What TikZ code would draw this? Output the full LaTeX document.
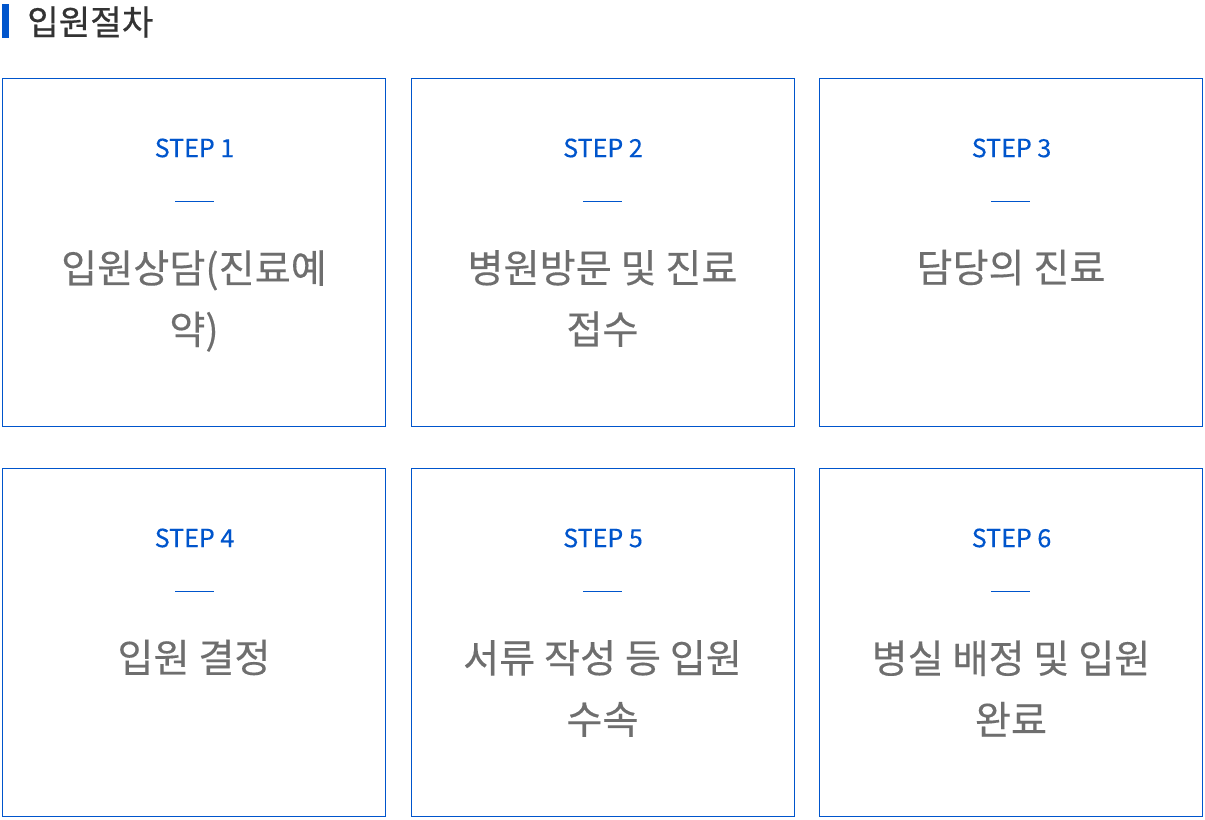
\documentclass[tikz,border=0pt]{standalone}
\usepackage{fontspec}
\setmainfont{Noto Sans CJK KR}
\newfontfamily\medfont[FakeBold=0.6]{Noto Sans CJK KR}
\newfontfamily\semifont[FakeBold=0.3]{Noto Sans CJK KR}
\definecolor{stepblue}{HTML}{0055CC}
\definecolor{bodygray}{HTML}{6E6E6E}
\definecolor{titlegray}{HTML}{333333}
\begin{document}
\begin{tikzpicture}[x=0.75pt,y=-0.75pt,
  card/.style={draw=stepblue, line width=0.75pt, minimum width=287.25pt, minimum height=261pt, inner sep=0pt, outer sep=0pt},
  steplabel/.style={text=stepblue, font=\semifont\fontsize{18.8}{22}\selectfont, inner sep=0pt},
  rule/.style={draw=stepblue, line width=0.75pt},
  bodytext/.style={text=bodygray, font=\semifont\fontsize{29.4}{46}\selectfont, align=center, inner sep=0pt},
  titletext/.style={text=titlegray, font=\medfont\fontsize{25.7}{28}\selectfont, inner sep=0pt, anchor=west}]
\useasboundingbox (0,0) rectangle (1205,819);
% title
\fill[stepblue] (2,4) rectangle (8.5,38);
\node[titletext] (title) at (27,22) {입원절차};
% cards
\node[card] (c1) at (194,252.5) {};
\node[card] (c2) at (602.5,252.5) {};
\node[card] (c3) at (1011,252.5) {};
\node[card] (c4) at (194,642.5) {};
\node[card] (c5) at (602.5,642.5) {};
\node[card] (c6) at (1011,642.5) {};
% step labels
\node[steplabel] (s1) at (194.5,148) {STEP 1};
\node[steplabel] (s2) at (603,148) {STEP 2};
\node[steplabel] (s3) at (1011.5,148) {STEP 3};
\node[steplabel] (s4) at (194.5,538) {STEP 4};
\node[steplabel] (s5) at (603,538) {STEP 5};
\node[steplabel] (s6) at (1011.5,538) {STEP 6};
% short rules
\draw[rule] (175,201) -- (214,201);
\draw[rule] (583,201) -- (622,201);
\draw[rule] (991,201) -- (1030,201);
\draw[rule] (175,591) -- (214,591);
\draw[rule] (583,591) -- (622,591);
\draw[rule] (991,591) -- (1030,591);
% body texts
\node[bodytext] (t1) at (194,301) {입원상담(진료예\\약)};
\node[bodytext] (t2) at (602.5,298.5) {병원방문 및 진료\\접수};
\node[bodytext] (t3) at (1011,267.5) {담당의 진료};
\node[bodytext] (t4) at (194,657.5) {입원 결정};
\node[bodytext] (t5) at (602.5,688.5) {서류 작성 등 입원\\수속};
\node[bodytext] (t6) at (1011,688.5) {병실 배정 및 입원\\완료};
\end{tikzpicture}
\end{document}
